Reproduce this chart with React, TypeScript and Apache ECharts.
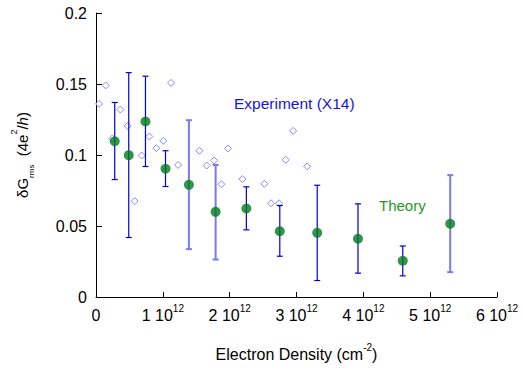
import React, { useEffect, useRef } from "react";
import * as echarts from "echarts";

// Theory points: electron density (×10^12 cm^-2), δG_rms, error bar low, error bar high
const theoryX = [0.28, 0.49, 0.74, 1.04, 1.39, 1.79, 2.25, 2.75, 3.31, 3.92, 4.59, 5.3];
const theoryY = [0.1097, 0.0999, 0.1236, 0.0903, 0.079, 0.06, 0.0623, 0.0463, 0.0452, 0.041, 0.0255, 0.0516];
const theoryLow = [0.0827, 0.0419, 0.0919, 0.0778, 0.0337, 0.0264, 0.0473, 0.0287, 0.0116, 0.0168, 0.0149, 0.0175];
const theoryHigh = [0.137, 0.158, 0.1555, 0.103, 0.1245, 0.093, 0.0776, 0.0644, 0.0787, 0.0656, 0.0359, 0.0858];

// Experiment (X14) points
const expX = [0.045, 0.145, 0.244, 0.364, 0.474, 0.579, 0.684, 0.798, 0.903, 1.008, 1.123, 1.228, 1.547, 1.657, 1.766, 1.876, 1.976, 2.19, 2.52, 2.62, 2.74, 2.84, 2.95, 3.16];
const expY = [0.136, 0.149, 0.1116, 0.132, 0.1205, 0.0675, 0.0996, 0.113, 0.1048, 0.11, 0.1508, 0.093, 0.103, 0.0926, 0.0961, 0.0794, 0.1046, 0.083, 0.0797, 0.066, 0.066, 0.0966, 0.117, 0.092];

const xTicks = [0, 1, 2, 3, 4, 5, 6];
const yTicks = [0, 0.05, 0.1, 0.15, 0.2];

// style: which error bars are drawn in the lighter, thicker blue
const lightBars = new Set([4, 5, 11]);

const E12 = 1e12;
const FONT = "'Liberation Sans', Arial, sans-serif";

export default function App() {
  const ref = useRef<HTMLDivElement>(null);
  useEffect(() => {
    if (!ref.current) return;
    const chart = echarts.init(ref.current, undefined, { renderer: "svg" });
    const barData = theoryX.map((x, i) => [x * E12, theoryLow[i], theoryHigh[i], i]);
    const option: any = {
      animation: false,
      backgroundColor: "#ffffff",
      textStyle: { fontFamily: FONT },
      grid: { left: 96, right: 27, top: 13, bottom: 71, outerBoundsMode: "none", containLabel: false },
      xAxis: {
        type: "value",
        min: xTicks[0] * E12,
        max: xTicks[xTicks.length - 1] * E12,
        interval: E12,
        splitLine: { show: false },
        axisLine: { lineStyle: { color: "#000", width: 1 } },
        axisTick: { inside: true, length: 5, lineStyle: { color: "#000" } },
        axisLabel: {
          margin: 6,
          color: "#000",
          fontFamily: FONT,
          fontSize: 16,
          formatter: (v: number) => {
            const n = Math.round(v / E12);
            return n === 0 ? "{a|0}" : `{a|${n} 10}{s|12}`;
          },
          rich: {
            a: { fontSize: 16, fontFamily: FONT, color: "#000", lineHeight: 20, verticalAlign: "bottom" },
            s: { fontSize: 10, fontFamily: FONT, color: "#000", lineHeight: 10, verticalAlign: "top" },
          },
        },
        name: "{a|Electron Density (cm}{s|-2}{a|)}",
        nameLocation: "middle",
        nameGap: 45,
        nameTextStyle: {
          rich: {
            a: { fontSize: 16, fontFamily: FONT, color: "#000", lineHeight: 20, verticalAlign: "bottom" },
            s: { fontSize: 10, fontFamily: FONT, color: "#000", lineHeight: 10, verticalAlign: "top" },
          },
        },
      },
      yAxis: {
        type: "value",
        min: yTicks[0],
        max: yTicks[yTicks.length - 1],
        interval: 0.05,
        splitLine: { show: false },
        axisLine: { lineStyle: { color: "#000", width: 1 } },
        axisTick: { inside: true, length: 6, lineStyle: { color: "#000" } },
        axisLabel: {
          margin: 9,
          color: "#000",
          fontFamily: FONT,
          fontSize: 16,
          formatter: (v: number) => String(Math.round(v * 100) / 100),
        },
        name: "{a|δG}{sub|rms}{a|  (4e}{sup|2}{a|/}{i|h}{a|)}",
        nameLocation: "middle",
        nameGap: 61,
        nameTextStyle: {
          rich: {
            a: { fontSize: 15, fontFamily: FONT, color: "#000", lineHeight: 26, verticalAlign: "middle" },
            i: { fontSize: 15, fontFamily: FONT, fontStyle: "italic", color: "#000", lineHeight: 26, verticalAlign: "middle" },
            sub: { fontSize: 8, fontFamily: FONT, color: "#000", lineHeight: 8, verticalAlign: "bottom" },
            sup: { fontSize: 9, fontFamily: FONT, color: "#000", lineHeight: 9, verticalAlign: "top" },
          },
        },
      },
      series: [
        {
          type: "scatter",
          name: "Experiment",
          data: expX.map((x, i) => [x * E12, expY[i]]),
          symbol: "diamond",
          symbolSize: 7,
          itemStyle: { color: "#ffffff", borderColor: "#6a6aff", borderWidth: 1 },
          z: 2,
        },
        {
          type: "custom",
          name: "Errors",
          data: barData,
          z: 3,
          renderItem: (params: any, api: any) => {
            const x = api.value(0);
            const idx = api.value(3);
            const lo = api.coord([x, api.value(1)]);
            const hi = api.coord([x, api.value(2)]);
            const light = lightBars.has(idx);
            const color = light ? "#7a7aee" : "#0000d8";
            const w = light ? 2 : 1.2;
            const cap = 3;
            const style = { stroke: color, lineWidth: w, fill: "none" };
            return {
              type: "group",
              children: [
                { type: "line", shape: { x1: lo[0], y1: lo[1], x2: hi[0], y2: hi[1] }, style },
                { type: "line", shape: { x1: lo[0] - cap, y1: lo[1], x2: lo[0] + cap, y2: lo[1] }, style },
                { type: "line", shape: { x1: hi[0] - cap, y1: hi[1], x2: hi[0] + cap, y2: hi[1] }, style },
              ],
            };
          },
        },
        {
          type: "scatter",
          name: "Theory",
          data: theoryX.map((x, i) => [x * E12, theoryY[i]]),
          symbol: "circle",
          symbolSize: 10,
          itemStyle: { color: "#007a1a" },
          z: 4,
        },
      ],
      graphic: [
        {
          type: "text",
          left: 234,
          top: 95,
          style: { text: "Experiment (X14)", fill: "#1414e0", font: `15.5px ${FONT}` },
        },
        {
          type: "text",
          left: 379,
          top: 198,
          style: { text: "Theory", fill: "#229922", font: `15px ${FONT}` },
        },
      ],
    };
    chart.setOption(option);
    return () => chart.dispose();
  }, []);
  return (
    <div
      ref={ref}
      style={{ position: "fixed", left: 0, top: 0, width: 524, height: 368 }}
    />
  );
}
